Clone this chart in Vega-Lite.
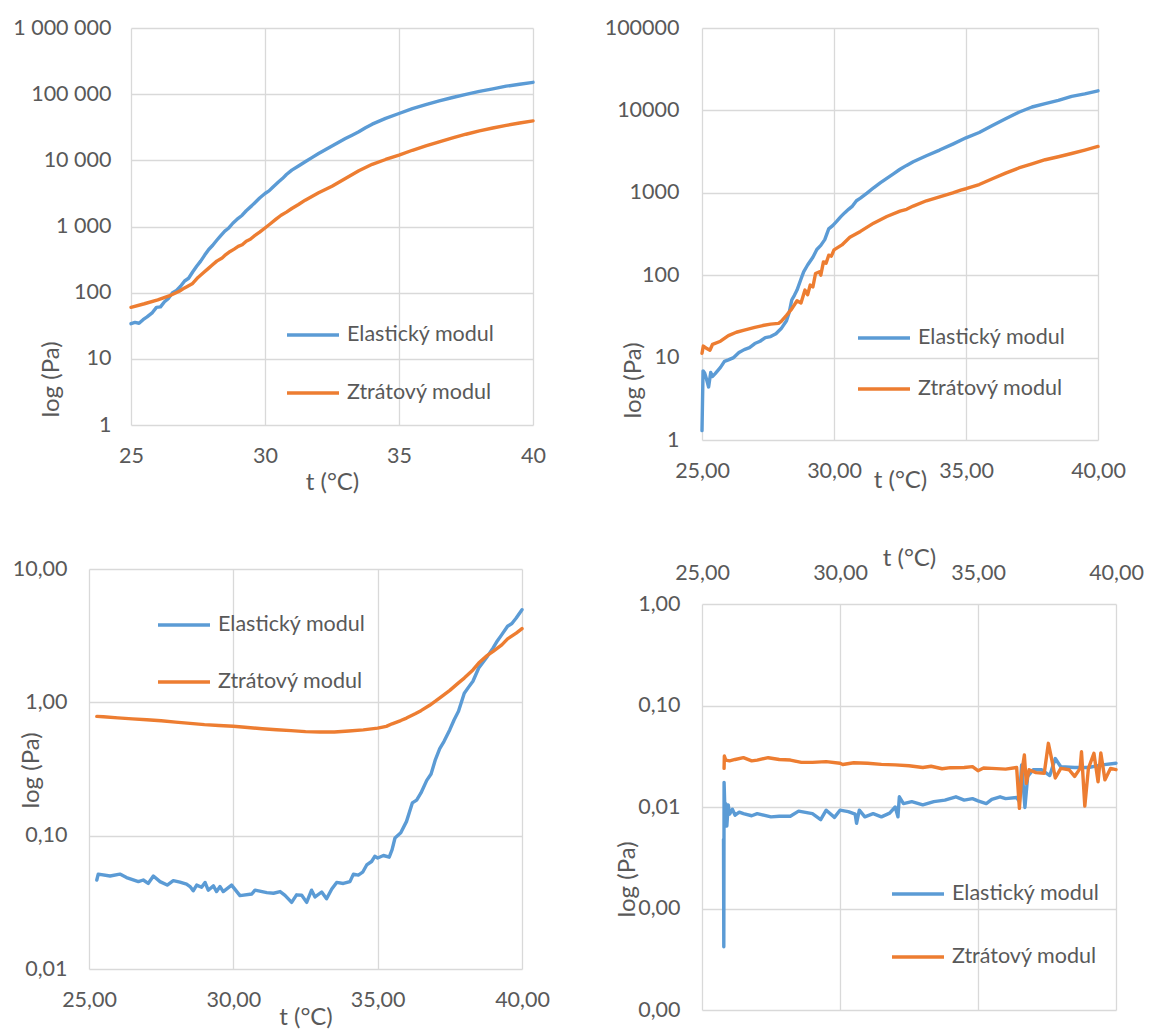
{
  "$schema": "https://vega.github.io/schema/vega-lite/v6.json",
  "padding": {"left": 11, "top": 17, "right": 0, "bottom": 0},
  "background": "white",
  "config": {
    "locale": {"number": {"decimal": ",", "thousands": " ", "grouping": [3], "currency": ["", ""]}},
    "view": {"stroke": null},
    "font": "Lato",
    "axis": {"labelFont": "Lato", "labelFontSize": 21.5, "labelColor": "#595959", "labelFlush": false, "labelOverlap": false, "titleFont": "Lato", "titleFontSize": 24, "titleFontWeight": "normal", "titleColor": "#595959", "grid": true, "gridColor": "#D9D9D9", "gridWidth": 1.3, "domain": false, "ticks": false},
    "legend": {"labelFont": "Lato", "labelFontSize": 21.5, "labelColor": "#595959", "symbolType": "stroke", "symbolSize": 2704, "symbolStrokeWidth": 3.4, "padding": 0, "labelOffset": 6},
    "line": {"strokeWidth": 3.4, "strokeJoin": "round", "strokeCap": "round"}
  },
  "datasets": {
    "empty": [],
    "p1": [
      {"t":25.0,"m":"Elastický modul","v":34},{"t":25.15,"m":"Elastický modul","v":35.5},{"t":25.3,"m":"Elastický modul","v":34.5},{"t":25.45,"m":"Elastický modul","v":39},{"t":25.6,"m":"Elastický modul","v":43},{"t":25.8,"m":"Elastický modul","v":50},{"t":25.95,"m":"Elastický modul","v":60},{"t":26.1,"m":"Elastický modul","v":61},{"t":26.25,"m":"Elastický modul","v":73},{"t":26.4,"m":"Elastický modul","v":82},{"t":26.55,"m":"Elastický modul","v":100},{"t":26.7,"m":"Elastický modul","v":108},{"t":26.85,"m":"Elastický modul","v":125},{"t":27.0,"m":"Elastický modul","v":150},{"t":27.15,"m":"Elastický modul","v":165},{"t":27.3,"m":"Elastický modul","v":205},{"t":27.45,"m":"Elastický modul","v":250},{"t":27.6,"m":"Elastický modul","v":300},{"t":27.75,"m":"Elastický modul","v":370},{"t":27.9,"m":"Elastický modul","v":450},{"t":28.05,"m":"Elastický modul","v":520},{"t":28.2,"m":"Elastický modul","v":620},{"t":28.35,"m":"Elastický modul","v":730},{"t":28.5,"m":"Elastický modul","v":850},{"t":28.65,"m":"Elastický modul","v":950},{"t":28.8,"m":"Elastický modul","v":1120},{"t":29.0,"m":"Elastický modul","v":1330},{"t":29.15,"m":"Elastický modul","v":1480},{"t":29.3,"m":"Elastický modul","v":1730},{"t":29.5,"m":"Elastický modul","v":2050},{"t":29.65,"m":"Elastický modul","v":2350},{"t":29.8,"m":"Elastický modul","v":2700},{"t":30.0,"m":"Elastický modul","v":3150},{"t":30.15,"m":"Elastický modul","v":3450},{"t":30.3,"m":"Elastický modul","v":3960},{"t":30.5,"m":"Elastický modul","v":4700},{"t":30.65,"m":"Elastický modul","v":5300},{"t":30.8,"m":"Elastický modul","v":6100},{"t":31.0,"m":"Elastický modul","v":7100},{"t":31.25,"m":"Elastický modul","v":8200},{"t":31.5,"m":"Elastický modul","v":9500},{"t":31.75,"m":"Elastický modul","v":11000},{"t":32.0,"m":"Elastický modul","v":12700},{"t":32.25,"m":"Elastický modul","v":14500},{"t":32.5,"m":"Elastický modul","v":16500},{"t":32.75,"m":"Elastický modul","v":18800},{"t":33.0,"m":"Elastický modul","v":21300},{"t":33.25,"m":"Elastický modul","v":24000},{"t":33.5,"m":"Elastický modul","v":27000},{"t":33.75,"m":"Elastický modul","v":31000},{"t":34.0,"m":"Elastický modul","v":35200},{"t":34.5,"m":"Elastický modul","v":43000},{"t":35.0,"m":"Elastický modul","v":51000},{"t":35.5,"m":"Elastický modul","v":60600},{"t":36.0,"m":"Elastický modul","v":69500},{"t":36.5,"m":"Elastický modul","v":79000},{"t":37.0,"m":"Elastický modul","v":89000},{"t":37.5,"m":"Elastický modul","v":99000},{"t":38.0,"m":"Elastický modul","v":110000},{"t":38.5,"m":"Elastický modul","v":120000},{"t":39.0,"m":"Elastický modul","v":132000},{"t":39.5,"m":"Elastický modul","v":141000},{"t":40.0,"m":"Elastický modul","v":151000},
      {"t":25.0,"m":"Ztrátový modul","v":60},{"t":25.5,"m":"Ztrátový modul","v":68},{"t":26.0,"m":"Ztrátový modul","v":78},{"t":26.5,"m":"Ztrátový modul","v":92},{"t":26.8,"m":"Ztrátový modul","v":105},{"t":27.0,"m":"Ztrátový modul","v":118},{"t":27.3,"m":"Ztrátový modul","v":138},{"t":27.5,"m":"Ztrátový modul","v":170},{"t":27.7,"m":"Ztrátový modul","v":200},{"t":27.9,"m":"Ztrátový modul","v":235},{"t":28.0,"m":"Ztrátový modul","v":255},{"t":28.2,"m":"Ztrátový modul","v":300},{"t":28.4,"m":"Ztrátový modul","v":335},{"t":28.5,"m":"Ztrátový modul","v":365},{"t":28.7,"m":"Ztrátový modul","v":420},{"t":28.85,"m":"Ztrátový modul","v":455},{"t":29.0,"m":"Ztrátový modul","v":500},{"t":29.15,"m":"Ztrátový modul","v":530},{"t":29.3,"m":"Ztrátový modul","v":600},{"t":29.45,"m":"Ztrátový modul","v":640},{"t":29.6,"m":"Ztrátový modul","v":720},{"t":29.8,"m":"Ztrátový modul","v":820},{"t":30.0,"m":"Ztrátový modul","v":950},{"t":30.2,"m":"Ztrátový modul","v":1100},{"t":30.4,"m":"Ztrátový modul","v":1280},{"t":30.6,"m":"Ztrátový modul","v":1480},{"t":30.8,"m":"Ztrátový modul","v":1650},{"t":31.0,"m":"Ztrátový modul","v":1870},{"t":31.25,"m":"Ztrátový modul","v":2150},{"t":31.5,"m":"Ztrátový modul","v":2500},{"t":31.75,"m":"Ztrátový modul","v":2850},{"t":32.0,"m":"Ztrátový modul","v":3240},{"t":32.5,"m":"Ztrátový modul","v":4070},{"t":33.0,"m":"Ztrátový modul","v":5320},{"t":33.5,"m":"Ztrátový modul","v":6950},{"t":34.0,"m":"Ztrátový modul","v":8700},{"t":34.5,"m":"Ztrátový modul","v":10300},{"t":35.0,"m":"Ztrátový modul","v":12000},{"t":35.5,"m":"Ztrátový modul","v":14200},{"t":36.0,"m":"Ztrátový modul","v":16500},{"t":36.5,"m":"Ztrátový modul","v":19000},{"t":37.0,"m":"Ztrátový modul","v":21800},{"t":37.5,"m":"Ztrátový modul","v":24800},{"t":38.0,"m":"Ztrátový modul","v":27800},{"t":38.5,"m":"Ztrátový modul","v":30800},{"t":39.0,"m":"Ztrátový modul","v":33800},{"t":39.5,"m":"Ztrátový modul","v":36700},{"t":40.0,"m":"Ztrátový modul","v":39500}
    ],
    "p2": [
      {"t":25.0,"m":"Elastický modul","v":1.3},{"t":25.04,"m":"Elastický modul","v":6.9},{"t":25.1,"m":"Elastický modul","v":6.5},{"t":25.17,"m":"Elastický modul","v":5.5},{"t":25.25,"m":"Elastický modul","v":4.4},{"t":25.33,"m":"Elastický modul","v":6.6},{"t":25.4,"m":"Elastický modul","v":5.9},{"t":25.5,"m":"Elastický modul","v":6.4},{"t":25.7,"m":"Elastický modul","v":7.6},{"t":25.85,"m":"Elastický modul","v":9.0},{"t":26.0,"m":"Elastický modul","v":9.4},{"t":26.2,"m":"Elastický modul","v":10},{"t":26.4,"m":"Elastický modul","v":11.5},{"t":26.6,"m":"Elastický modul","v":12.5},{"t":26.8,"m":"Elastický modul","v":13.2},{"t":27.0,"m":"Elastický modul","v":14.8},{"t":27.2,"m":"Elastický modul","v":15.8},{"t":27.4,"m":"Elastický modul","v":17.5},{"t":27.6,"m":"Elastický modul","v":18},{"t":27.8,"m":"Elastický modul","v":19.5},{"t":28.0,"m":"Elastický modul","v":22.5},{"t":28.2,"m":"Elastický modul","v":28},{"t":28.3,"m":"Elastický modul","v":35},{"t":28.4,"m":"Elastický modul","v":50},{"t":28.5,"m":"Elastický modul","v":57},{"t":28.6,"m":"Elastický modul","v":66},{"t":28.75,"m":"Elastický modul","v":90},{"t":28.85,"m":"Elastický modul","v":110},{"t":29.0,"m":"Elastický modul","v":133},{"t":29.2,"m":"Elastický modul","v":165},{"t":29.35,"m":"Elastický modul","v":205},{"t":29.5,"m":"Elastický modul","v":230},{"t":29.65,"m":"Elastický modul","v":270},{"t":29.8,"m":"Elastický modul","v":365},{"t":29.95,"m":"Elastický modul","v":400},{"t":30.1,"m":"Elastický modul","v":450},{"t":30.25,"m":"Elastický modul","v":510},{"t":30.4,"m":"Elastický modul","v":570},{"t":30.55,"m":"Elastický modul","v":630},{"t":30.7,"m":"Elastický modul","v":690},{"t":30.85,"m":"Elastický modul","v":800},{"t":31.0,"m":"Elastický modul","v":860},{"t":31.25,"m":"Elastický modul","v":990},{"t":31.5,"m":"Elastický modul","v":1150},{"t":31.75,"m":"Elastický modul","v":1320},{"t":32.0,"m":"Elastický modul","v":1500},{"t":32.25,"m":"Elastický modul","v":1700},{"t":32.5,"m":"Elastický modul","v":1930},{"t":32.75,"m":"Elastický modul","v":2150},{"t":33.0,"m":"Elastický modul","v":2380},{"t":33.5,"m":"Elastický modul","v":2820},{"t":34.0,"m":"Elastický modul","v":3300},{"t":34.5,"m":"Elastický modul","v":3900},{"t":35.0,"m":"Elastický modul","v":4650},{"t":35.5,"m":"Elastický modul","v":5400},{"t":36.0,"m":"Elastický modul","v":6550},{"t":36.5,"m":"Elastický modul","v":7900},{"t":37.0,"m":"Elastický modul","v":9500},{"t":37.5,"m":"Elastický modul","v":11000},{"t":38.0,"m":"Elastický modul","v":12100},{"t":38.5,"m":"Elastický modul","v":13200},{"t":39.0,"m":"Elastický modul","v":14800},{"t":39.5,"m":"Elastický modul","v":15900},{"t":40.0,"m":"Elastický modul","v":17300},
      {"t":25.0,"m":"Ztrátový modul","v":11.3},{"t":25.05,"m":"Ztrátový modul","v":13.8},{"t":25.15,"m":"Ztrátový modul","v":13.1},{"t":25.3,"m":"Ztrátový modul","v":12.3},{"t":25.4,"m":"Ztrátový modul","v":14.5},{"t":25.7,"m":"Ztrátový modul","v":15.8},{"t":26.0,"m":"Ztrátový modul","v":18.5},{"t":26.3,"m":"Ztrátový modul","v":20.3},{"t":26.6,"m":"Ztrátový modul","v":21.5},{"t":27.0,"m":"Ztrátový modul","v":23.3},{"t":27.3,"m":"Ztrátový modul","v":24.5},{"t":27.6,"m":"Ztrátový modul","v":25.5},{"t":27.9,"m":"Ztrátový modul","v":26},{"t":28.0,"m":"Ztrátový modul","v":27.5},{"t":28.2,"m":"Ztrátový modul","v":32.5},{"t":28.4,"m":"Ztrátový modul","v":39},{"t":28.6,"m":"Ztrátový modul","v":49},{"t":28.75,"m":"Ztrátový modul","v":46},{"t":28.9,"m":"Ztrátový modul","v":66},{"t":29.0,"m":"Ztrátový modul","v":58},{"t":29.1,"m":"Ztrátový modul","v":76},{"t":29.2,"m":"Ztrátový modul","v":72},{"t":29.3,"m":"Ztrátový modul","v":105},{"t":29.45,"m":"Ztrátový modul","v":110},{"t":29.5,"m":"Ztrátový modul","v":100},{"t":29.6,"m":"Ztrátový modul","v":145},{"t":29.7,"m":"Ztrátový modul","v":140},{"t":29.8,"m":"Ztrátový modul","v":175},{"t":29.9,"m":"Ztrátový modul","v":170},{"t":30.0,"m":"Ztrátový modul","v":203},{"t":30.3,"m":"Ztrátový modul","v":233},{"t":30.6,"m":"Ztrátový modul","v":288},{"t":31.0,"m":"Ztrátový modul","v":340},{"t":31.5,"m":"Ztrátový modul","v":428},{"t":32.0,"m":"Ztrátový modul","v":515},{"t":32.5,"m":"Ztrátový modul","v":600},{"t":32.75,"m":"Ztrátový modul","v":630},{"t":33.0,"m":"Ztrátový modul","v":690},{"t":33.5,"m":"Ztrátový modul","v":800},{"t":34.0,"m":"Ztrátový modul","v":895},{"t":34.5,"m":"Ztrátový modul","v":1000},{"t":34.8,"m":"Ztrátový modul","v":1080},{"t":35.0,"m":"Ztrátový modul","v":1120},{"t":35.5,"m":"Ztrátový modul","v":1260},{"t":36.0,"m":"Ztrátový modul","v":1480},{"t":36.5,"m":"Ztrátový modul","v":1730},{"t":37.0,"m":"Ztrátový modul","v":2000},{"t":37.5,"m":"Ztrátový modul","v":2240},{"t":38.0,"m":"Ztrátový modul","v":2520},{"t":38.5,"m":"Ztrátový modul","v":2740},{"t":39.0,"m":"Ztrátový modul","v":3000},{"t":39.5,"m":"Ztrátový modul","v":3300},{"t":40.0,"m":"Ztrátový modul","v":3650}
    ],
    "p3": [
      {"t":25.27,"m":"Elastický modul","v":0.0465},{"t":25.32,"m":"Elastický modul","v":0.0515},{"t":25.73,"m":"Elastický modul","v":0.0498},{"t":26.07,"m":"Elastický modul","v":0.0515},{"t":26.3,"m":"Elastický modul","v":0.0485},{"t":26.71,"m":"Elastický modul","v":0.0452},{"t":26.88,"m":"Elastický modul","v":0.0465},{"t":27.05,"m":"Elastický modul","v":0.0438},{"t":27.23,"m":"Elastický modul","v":0.0498},{"t":27.46,"m":"Elastický modul","v":0.0452},{"t":27.71,"m":"Elastický modul","v":0.0426},{"t":27.92,"m":"Elastický modul","v":0.046},{"t":28.15,"m":"Elastický modul","v":0.0448},{"t":28.38,"m":"Elastický modul","v":0.0433},{"t":28.5,"m":"Elastický modul","v":0.0415},{"t":28.61,"m":"Elastický modul","v":0.0386},{"t":28.73,"m":"Elastický modul","v":0.0426},{"t":28.9,"m":"Elastický modul","v":0.041},{"t":29.02,"m":"Elastický modul","v":0.0446},{"t":29.13,"m":"Elastický modul","v":0.039},{"t":29.31,"m":"Elastický modul","v":0.042},{"t":29.42,"m":"Elastický modul","v":0.0381},{"t":29.54,"m":"Elastický modul","v":0.0415},{"t":29.65,"m":"Elastický modul","v":0.0381},{"t":29.94,"m":"Elastický modul","v":0.0426},{"t":30.23,"m":"Elastický modul","v":0.0355},{"t":30.64,"m":"Elastický modul","v":0.0365},{"t":30.75,"m":"Elastický modul","v":0.039},{"t":31.16,"m":"Elastický modul","v":0.0374},{"t":31.39,"m":"Elastický modul","v":0.037},{"t":31.62,"m":"Elastický modul","v":0.0381},{"t":31.79,"m":"Elastický modul","v":0.0357},{"t":32.02,"m":"Elastický modul","v":0.0316},{"t":32.19,"m":"Elastický modul","v":0.036},{"t":32.37,"m":"Elastický modul","v":0.0357},{"t":32.54,"m":"Elastický modul","v":0.0316},{"t":32.71,"m":"Elastický modul","v":0.039},{"t":32.83,"m":"Elastický modul","v":0.0347},{"t":33.06,"m":"Elastický modul","v":0.0378},{"t":33.23,"m":"Elastický modul","v":0.0336},{"t":33.41,"m":"Elastický modul","v":0.0398},{"t":33.58,"m":"Elastický modul","v":0.0446},{"t":33.81,"m":"Elastický modul","v":0.0438},{"t":34.04,"m":"Elastický modul","v":0.0452},{"t":34.16,"m":"Elastický modul","v":0.0515},{"t":34.33,"m":"Elastický modul","v":0.0506},{"t":34.48,"m":"Elastický modul","v":0.0532},{"t":34.62,"m":"Elastický modul","v":0.0603},{"t":34.79,"m":"Elastický modul","v":0.064},{"t":34.9,"m":"Elastický modul","v":0.07},{"t":35.0,"m":"Elastický modul","v":0.068},{"t":35.2,"m":"Elastický modul","v":0.071},{"t":35.4,"m":"Elastický modul","v":0.069},{"t":35.5,"m":"Elastický modul","v":0.0785},{"t":35.6,"m":"Elastický modul","v":0.096},{"t":35.8,"m":"Elastický modul","v":0.105},{"t":36.0,"m":"Elastický modul","v":0.128},{"t":36.2,"m":"Elastický modul","v":0.176},{"t":36.35,"m":"Elastický modul","v":0.185},{"t":36.5,"m":"Elastický modul","v":0.209},{"t":36.7,"m":"Elastický modul","v":0.26},{"t":36.85,"m":"Elastický modul","v":0.29},{"t":37.0,"m":"Elastický modul","v":0.372},{"t":37.15,"m":"Elastický modul","v":0.45},{"t":37.3,"m":"Elastický modul","v":0.51},{"t":37.5,"m":"Elastický modul","v":0.624},{"t":37.65,"m":"Elastický modul","v":0.74},{"t":37.8,"m":"Elastický modul","v":0.856},{"t":38.0,"m":"Elastický modul","v":1.17},{"t":38.15,"m":"Elastický modul","v":1.3},{"t":38.3,"m":"Elastický modul","v":1.44},{"t":38.5,"m":"Elastický modul","v":1.81},{"t":38.65,"m":"Elastický modul","v":2.0},{"t":38.8,"m":"Elastický modul","v":2.21},{"t":39.0,"m":"Elastický modul","v":2.56},{"t":39.15,"m":"Elastický modul","v":2.9},{"t":39.3,"m":"Elastický modul","v":3.22},{"t":39.5,"m":"Elastický modul","v":3.72},{"t":39.65,"m":"Elastický modul","v":3.9},{"t":39.8,"m":"Elastický modul","v":4.29},{"t":40.0,"m":"Elastický modul","v":4.95},
      {"t":25.27,"m":"Ztrátový modul","v":0.785},{"t":25.5,"m":"Ztrátový modul","v":0.78},{"t":26.0,"m":"Ztrátový modul","v":0.765},{"t":26.5,"m":"Ztrátový modul","v":0.752},{"t":27.0,"m":"Ztrátový modul","v":0.741},{"t":27.5,"m":"Ztrátový modul","v":0.727},{"t":28.0,"m":"Ztrátový modul","v":0.711},{"t":28.5,"m":"Ztrátový modul","v":0.695},{"t":29.0,"m":"Ztrátový modul","v":0.68},{"t":29.5,"m":"Ztrátový modul","v":0.67},{"t":30.0,"m":"Ztrátový modul","v":0.661},{"t":30.5,"m":"Ztrátový modul","v":0.648},{"t":31.0,"m":"Ztrátový modul","v":0.634},{"t":31.5,"m":"Ztrátový modul","v":0.623},{"t":32.0,"m":"Ztrátový modul","v":0.613},{"t":32.5,"m":"Ztrátový modul","v":0.603},{"t":33.0,"m":"Ztrátový modul","v":0.599},{"t":33.5,"m":"Ztrátový modul","v":0.599},{"t":34.0,"m":"Ztrátový modul","v":0.61},{"t":34.5,"m":"Ztrátový modul","v":0.622},{"t":35.0,"m":"Ztrátový modul","v":0.64},{"t":35.3,"m":"Ztrátový modul","v":0.66},{"t":35.5,"m":"Ztrátový modul","v":0.69},{"t":35.8,"m":"Ztrátový modul","v":0.73},{"t":36.0,"m":"Ztrátový modul","v":0.762},{"t":36.3,"m":"Ztrátový modul","v":0.82},{"t":36.5,"m":"Ztrátový modul","v":0.866},{"t":36.8,"m":"Ztrátový modul","v":0.95},{"t":37.0,"m":"Ztrátový modul","v":1.02},{"t":37.2,"m":"Ztrátový modul","v":1.1},{"t":37.5,"m":"Ztrátový modul","v":1.23},{"t":37.8,"m":"Ztrátový modul","v":1.4},{"t":38.0,"m":"Ztrátový modul","v":1.52},{"t":38.3,"m":"Ztrátový modul","v":1.75},{"t":38.5,"m":"Ztrátový modul","v":1.97},{"t":38.8,"m":"Ztrátový modul","v":2.25},{"t":39.0,"m":"Ztrátový modul","v":2.41},{"t":39.3,"m":"Ztrátový modul","v":2.7},{"t":39.5,"m":"Ztrátový modul","v":2.99},{"t":39.8,"m":"Ztrátový modul","v":3.3},{"t":40.0,"m":"Ztrátový modul","v":3.57}
    ],
    "p4": [
      {"t":25.78,"m":"Elastický modul","v":0.0048},{"t":25.79,"m":"Elastický modul","v":0.00042},{"t":25.8,"m":"Elastický modul","v":0.0175},{"t":25.83,"m":"Elastický modul","v":0.0092},{"t":25.86,"m":"Elastický modul","v":0.0108},{"t":25.9,"m":"Elastický modul","v":0.0065},{"t":25.95,"m":"Elastický modul","v":0.0105},{"t":26.0,"m":"Elastický modul","v":0.0085},{"t":26.1,"m":"Elastický modul","v":0.0095},{"t":26.2,"m":"Elastický modul","v":0.0083},{"t":26.35,"m":"Elastický modul","v":0.0089},{"t":26.5,"m":"Elastický modul","v":0.0086},{"t":26.8,"m":"Elastický modul","v":0.0082},{"t":27.0,"m":"Elastický modul","v":0.0086},{"t":27.5,"m":"Elastický modul","v":0.008},{"t":27.8,"m":"Elastický modul","v":0.0081},{"t":28.2,"m":"Elastický modul","v":0.0081},{"t":28.5,"m":"Elastický modul","v":0.0091},{"t":29.0,"m":"Elastický modul","v":0.0086},{"t":29.3,"m":"Elastický modul","v":0.0075},{"t":29.5,"m":"Elastický modul","v":0.0093},{"t":29.8,"m":"Elastický modul","v":0.0079},{"t":30.0,"m":"Elastický modul","v":0.0093},{"t":30.3,"m":"Elastický modul","v":0.009},{"t":30.55,"m":"Elastický modul","v":0.0085},{"t":30.6,"m":"Elastický modul","v":0.0069},{"t":30.7,"m":"Elastický modul","v":0.0093},{"t":30.9,"m":"Elastický modul","v":0.008},{"t":31.2,"m":"Elastický modul","v":0.0086},{"t":31.5,"m":"Elastický modul","v":0.008},{"t":31.8,"m":"Elastický modul","v":0.0087},{"t":32.0,"m":"Elastický modul","v":0.01},{"t":32.1,"m":"Elastický modul","v":0.008},{"t":32.15,"m":"Elastický modul","v":0.0126},{"t":32.3,"m":"Elastický modul","v":0.0108},{"t":32.6,"m":"Elastický modul","v":0.0113},{"t":33.0,"m":"Elastický modul","v":0.0105},{"t":33.4,"m":"Elastický modul","v":0.0113},{"t":33.8,"m":"Elastický modul","v":0.0117},{"t":34.2,"m":"Elastický modul","v":0.0126},{"t":34.5,"m":"Elastický modul","v":0.0117},{"t":34.8,"m":"Elastický modul","v":0.0121},{"t":35.0,"m":"Elastický modul","v":0.0115},{"t":35.3,"m":"Elastický modul","v":0.0108},{"t":35.5,"m":"Elastický modul","v":0.0119},{"t":35.8,"m":"Elastický modul","v":0.0126},{"t":36.0,"m":"Elastický modul","v":0.0121},{"t":36.4,"m":"Elastický modul","v":0.0124},{"t":36.5,"m":"Elastický modul","v":0.0113},{"t":36.58,"m":"Elastický modul","v":0.026},{"t":36.7,"m":"Elastický modul","v":0.0099},{"t":36.8,"m":"Elastický modul","v":0.02},{"t":37.0,"m":"Elastický modul","v":0.0233},{"t":37.3,"m":"Elastický modul","v":0.0233},{"t":37.6,"m":"Elastický modul","v":0.0204},{"t":37.8,"m":"Elastický modul","v":0.03},{"t":38.0,"m":"Elastický modul","v":0.0249},{"t":38.5,"m":"Elastický modul","v":0.0245},{"t":39.0,"m":"Elastický modul","v":0.0245},{"t":39.5,"m":"Elastický modul","v":0.026},{"t":40.0,"m":"Elastický modul","v":0.027},
      {"t":25.8,"m":"Ztrátový modul","v":0.024},{"t":25.81,"m":"Ztrátový modul","v":0.0318},{"t":25.86,"m":"Ztrátový modul","v":0.029},{"t":26.0,"m":"Ztrátový modul","v":0.0285},{"t":26.2,"m":"Ztrátový modul","v":0.0294},{"t":26.5,"m":"Ztrátový modul","v":0.0306},{"t":26.8,"m":"Ztrátový modul","v":0.0285},{"t":27.0,"m":"Ztrátový modul","v":0.029},{"t":27.4,"m":"Ztrátový modul","v":0.0306},{"t":27.8,"m":"Ztrátový modul","v":0.0294},{"t":28.2,"m":"Ztrátový modul","v":0.029},{"t":28.6,"m":"Ztrátový modul","v":0.0275},{"t":29.0,"m":"Ztrátový modul","v":0.0275},{"t":29.5,"m":"Ztrátový modul","v":0.028},{"t":30.0,"m":"Ztrátový modul","v":0.027},{"t":30.1,"m":"Ztrátový modul","v":0.0262},{"t":30.5,"m":"Ztrátový modul","v":0.0273},{"t":31.0,"m":"Ztrátový modul","v":0.027},{"t":31.5,"m":"Ztrátový modul","v":0.0263},{"t":32.0,"m":"Ztrátový modul","v":0.026},{"t":32.5,"m":"Ztrátový modul","v":0.0255},{"t":33.0,"m":"Ztrátový modul","v":0.0245},{"t":33.3,"m":"Ztrátový modul","v":0.0252},{"t":33.5,"m":"Ztrátový modul","v":0.0245},{"t":33.7,"m":"Ztrátový modul","v":0.0238},{"t":34.0,"m":"Ztrátový modul","v":0.0244},{"t":34.5,"m":"Ztrátový modul","v":0.0245},{"t":34.8,"m":"Ztrátový modul","v":0.025},{"t":35.0,"m":"Ztrátový modul","v":0.0228},{"t":35.2,"m":"Ztrátový modul","v":0.0242},{"t":35.5,"m":"Ztrátový modul","v":0.024},{"t":36.0,"m":"Ztrátový modul","v":0.0236},{"t":36.4,"m":"Ztrátový modul","v":0.0245},{"t":36.5,"m":"Ztrátový modul","v":0.0097},{"t":36.6,"m":"Ztrátový modul","v":0.0233},{"t":36.68,"m":"Ztrátový modul","v":0.0325},{"t":36.75,"m":"Ztrátový modul","v":0.0171},{"t":36.85,"m":"Ztrátový modul","v":0.0233},{"t":37.1,"m":"Ztrátový modul","v":0.0218},{"t":37.4,"m":"Ztrátový modul","v":0.0215},{"t":37.55,"m":"Ztrátový modul","v":0.0424},{"t":37.7,"m":"Ztrátový modul","v":0.027},{"t":37.8,"m":"Ztrátový modul","v":0.0193},{"t":38.0,"m":"Ztrátový modul","v":0.024},{"t":38.3,"m":"Ztrátový modul","v":0.0233},{"t":38.5,"m":"Ztrátový modul","v":0.02},{"t":38.7,"m":"Ztrátový modul","v":0.024},{"t":38.75,"m":"Ztrátový modul","v":0.035},{"t":38.87,"m":"Ztrátový modul","v":0.0102},{"t":39.0,"m":"Ztrátový modul","v":0.024},{"t":39.2,"m":"Ztrátový modul","v":0.0338},{"t":39.35,"m":"Ztrátový modul","v":0.0177},{"t":39.45,"m":"Ztrátový modul","v":0.0341},{"t":39.6,"m":"Ztrátový modul","v":0.0185},{"t":39.8,"m":"Ztrátový modul","v":0.024},{"t":40.0,"m":"Ztrátový modul","v":0.0233}
    ]
  },
  "resolve": {"scale": {"color": "independent", "x": "independent", "y": "independent"}, "legend": {"color": "independent"}},
  "spacing": 54,
  "hconcat": [
    {
      "spacing": 64,
      "resolve": {"scale": {"color": "independent", "x": "independent", "y": "independent"}, "legend": {"color": "independent"}},
      "vconcat": [
        {"spacing": 0, "resolve": {"scale": {"color": "independent", "x": "independent", "y": "independent"}, "legend": {"color": "independent"}}, "hconcat": [
        {"width": 1, "height": 1, "data": {"name": "empty"}, "mark": "point", "encoding": {}},
        {
          "width": 402, "height": 397,
          "data": {"name": "p1"},
          "mark": {"type": "line"},
          "encoding": {
            "x": {"field": "t", "type": "quantitative", "scale": {"domain": [25, 40], "nice": false, "zero": false}, "axis": {"values": [25, 30, 35, 40], "format": ".0f", "title": "t (°C)", "labelPadding": 20, "titleY": 57, "titleBaseline": "middle"}},
            "y": {"field": "v", "type": "quantitative", "scale": {"type": "log", "domain": [1, 1000000], "nice": false}, "axis": {"values": [1, 10, 100, 1000, 10000, 100000, 1000000], "format": ",.0f", "title": "log (Pa)", "labelPadding": 20, "titleX": -80, "titleY": 351, "titleBaseline": "middle"}},
            "color": {"field": "m", "type": "nominal", "scale": {"domain": ["Elastický modul", "Ztrátový modul"], "range": ["#5B9BD5", "#ED7D31"]}, "legend": {"title": null, "orient": "none", "legendX": 154, "legendY": 279, "rowPadding": 19}}
          }
        }]},
        {"spacing": 0, "resolve": {"scale": {"color": "independent", "x": "independent", "y": "independent"}, "legend": {"color": "independent"}}, "hconcat": [
        {"width": 1, "height": 1, "data": {"name": "empty"}, "mark": "point", "encoding": {}},
        {
          "width": 433, "height": 400,
          "data": {"name": "p3"},
          "mark": {"type": "line"},
          "encoding": {
            "x": {"field": "t", "type": "quantitative", "scale": {"domain": [25, 40], "nice": false, "zero": false}, "axis": {"values": [25, 30, 35, 40], "format": ".2f", "title": "t (°C)", "labelPadding": 20, "titleY": 48, "titleBaseline": "middle"}},
            "y": {"field": "v", "type": "quantitative", "scale": {"type": "log", "domain": [0.01, 10], "nice": false}, "axis": {"values": [0.01, 0.1, 1, 10], "format": ".2f", "title": "log (Pa)", "labelPadding": 22, "titleX": -58, "titleY": 201, "titleBaseline": "middle"}},
            "color": {"field": "m", "type": "nominal", "scale": {"domain": ["Elastický modul", "Ztrátový modul"], "range": ["#5B9BD5", "#ED7D31"]}, "legend": {"title": null, "orient": "none", "legendX": 67, "legendY": 28, "rowPadding": 18}}
          }
        }]}
      ]
    },
    {
      "spacing": 54,
      "resolve": {"scale": {"color": "independent", "x": "independent", "y": "independent"}, "legend": {"color": "independent"}},
      "vconcat": [
        {
          "width": 396, "height": 412,
          "data": {"name": "p2"},
          "mark": {"type": "line"},
          "encoding": {
            "x": {"field": "t", "type": "quantitative", "scale": {"domain": [25, 40], "nice": false, "zero": false}, "axis": {"values": [25, 30, 35, 40], "format": ".2f", "title": "t (°C)", "labelPadding": 20, "titleY": 40, "titleBaseline": "middle"}},
            "y": {"field": "v", "type": "quantitative", "scale": {"type": "log", "domain": [1, 100000], "nice": false}, "axis": {"values": [1, 10, 100, 1000, 10000, 100000], "format": ".0f", "title": "log (Pa)", "labelPadding": 23, "titleX": -69, "titleY": 352, "titleBaseline": "middle"}},
            "color": {"field": "m", "type": "nominal", "scale": {"domain": ["Elastický modul", "Ztrátový modul"], "range": ["#5B9BD5", "#ED7D31"]}, "legend": {"title": null, "orient": "none", "legendX": 154, "legendY": 282, "rowPadding": 12}}
          }
        },
        {
          "width": 414, "height": 406,
          "data": {"name": "p4"},
          "mark": {"type": "line"},
          "encoding": {
            "x": {"field": "t", "type": "quantitative", "scale": {"domain": [25, 40], "nice": false, "zero": false}, "axis": {"orient": "top", "values": [25, 30, 35, 40], "format": ".2f", "title": "t (°C)", "labelPadding": 20, "titleY": -46, "titleBaseline": "middle"}},
            "y": {"field": "v", "type": "quantitative", "scale": {"type": "log", "domain": [0.0001, 1], "nice": false}, "axis": {"values": [0.0001, 0.001, 0.01, 0.1, 1], "format": ".2f", "title": "log (Pa)", "labelPadding": 22, "titleX": -75, "titleY": 275, "titleBaseline": "middle"}},
            "color": {"field": "m", "type": "nominal", "scale": {"domain": ["Elastický modul", "Ztrátový modul"], "range": ["#5B9BD5", "#ED7D31"]}, "legend": {"title": null, "orient": "none", "legendX": 188, "legendY": 262, "rowPadding": 24}}
          }
        }
      ]
    }
  ]
}
